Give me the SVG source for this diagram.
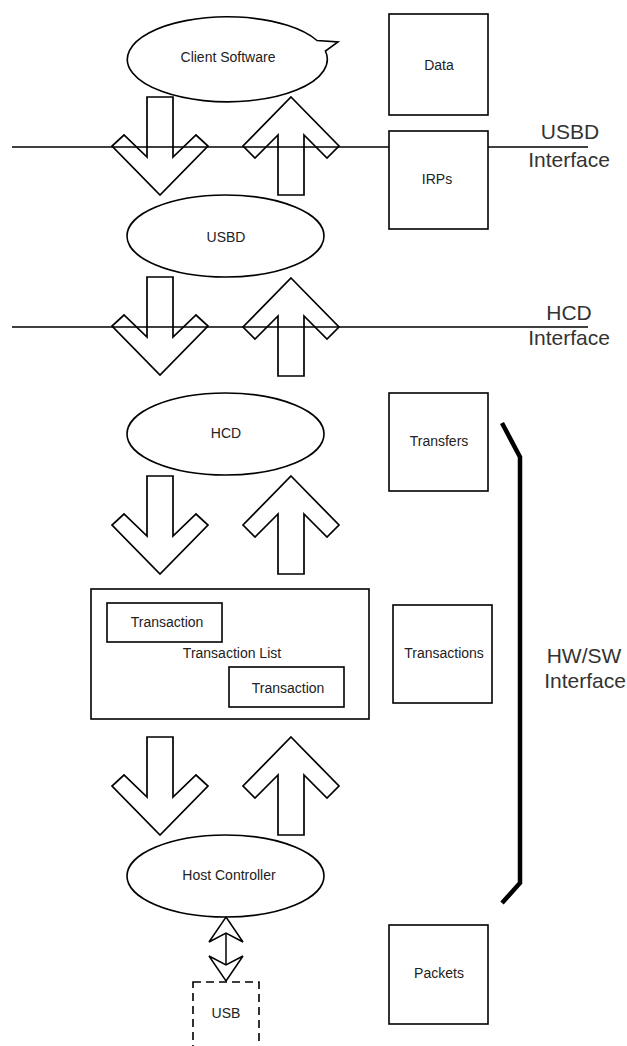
<svg xmlns="http://www.w3.org/2000/svg" width="627" height="1046" viewBox="0 0 627 1046">
<style>
  .shape { fill: #fff; stroke: #000; stroke-width: 1.6; }
  .blk { fill: none; stroke: #000; stroke-width: 1.7; stroke-linejoin: miter; }
  .line { fill: none; stroke: #000; stroke-width: 1.5; }
  .lbl { font-family: "Liberation Sans", Arial, sans-serif; font-size: 14px; fill: #222; text-anchor: middle; }
  .big { font-family: "Liberation Sans", Arial, sans-serif; font-size: 21px; fill: #333; text-anchor: middle; }
</style>
<defs>
  <path id="down" d="M-13,0 H13 V60 L36,38 L48,49 L0,98 L-48,49 L-36,38 L-13,60 Z"/>
  <path id="up" d="M0,0 L48,49 L36,61 L13,38 V98 H-13 V38 L-36,61 L-48,49 Z"/>
</defs>
<rect width="627" height="1046" fill="#fff"/>

<g id="usbd-interface">
  <line class="line" x1="12" y1="147" x2="588" y2="147"/>
  <text class="big" x="570" y="139">USBD</text>
  <text class="big" x="569" y="167">Interface</text>
</g>
<g id="hcd-interface">
  <line class="line" x1="12" y1="327" x2="588" y2="327"/>
  <text class="big" x="569" y="320">HCD</text>
  <text class="big" x="569" y="345">Interface</text>
</g>
<g id="hwsw-interface">
  <polyline points="502,423 520,457 520,883 502,903" fill="none" stroke="#000" stroke-width="4.5"/>
  <text class="big" x="584" y="663">HW/SW</text>
  <text class="big" x="585" y="688">Interface</text>
</g>

<g id="client-software">
  <path class="shape" d="M317,40.5 A100 42.5 0 1 0 325.4,51 L338,42 Z"/>
  <text class="lbl" x="228" y="62">Client Software</text>
</g>
<g id="usbd">
  <ellipse class="shape" cx="225.5" cy="236" rx="98.5" ry="41"/>
  <text class="lbl" x="226" y="242">USBD</text>
</g>
<g id="hcd">
  <ellipse class="shape" cx="225.5" cy="434" rx="98.5" ry="41"/>
  <text class="lbl" x="226" y="438">HCD</text>
</g>
<g id="transaction-list">
  <rect class="shape" x="91" y="589" width="278" height="130"/>
  <text class="lbl" x="232" y="658">Transaction List</text>
</g>
<g id="transaction-1">
  <rect class="shape" x="107" y="603" width="115" height="39"/>
  <text class="lbl" x="167" y="627">Transaction</text>
</g>
<g id="transaction-2">
  <rect class="shape" x="229" y="667" width="115" height="40"/>
  <text class="lbl" x="288" y="693">Transaction</text>
</g>
<g id="host-controller">
  <ellipse class="shape" cx="225.5" cy="876" rx="98.5" ry="41"/>
  <text class="lbl" x="229" y="880">Host Controller</text>
</g>
<g id="usb">
  <rect x="193" y="982" width="66" height="80" fill="#fff" stroke="#000" stroke-width="1.6" stroke-dasharray="8,5"/>
  <text class="lbl" x="226" y="1018">USB</text>
</g>

<g id="data">
  <rect class="shape" x="389" y="14" width="99" height="101"/>
  <text class="lbl" x="439" y="70">Data</text>
</g>
<g id="irps">
  <rect class="shape" x="389" y="131" width="99" height="98"/>
  <text class="lbl" x="437" y="184">IRPs</text>
</g>
<g id="transfers">
  <rect class="shape" x="389" y="393" width="99" height="98"/>
  <text class="lbl" x="439" y="446">Transfers</text>
</g>
<g id="transactions">
  <rect class="shape" x="393" y="605" width="99" height="98"/>
  <text class="lbl" x="444" y="658">Transactions</text>
</g>
<g id="packets">
  <rect class="shape" x="389" y="925" width="99" height="99"/>
  <text class="lbl" x="439" y="978">Packets</text>
</g>

<g id="connectors">
  <use href="#down" class="blk" x="160" y="97"/>
  <use href="#up" class="blk" x="291" y="97"/>
  <use href="#down" class="blk" x="160" y="277"/>
  <use href="#up" class="blk" x="291" y="278"/>
  <use href="#down" class="blk" x="160" y="476"/>
  <use href="#up" class="blk" x="291" y="476"/>
  <use href="#down" class="blk" x="160" y="737"/>
  <use href="#up" class="blk" x="291" y="737"/>
  <line class="line" x1="226" y1="930" x2="226" y2="968"/>
  <path d="M226,917 L243,942 L226,933 L209,942 Z" fill="#fff" stroke="#000" stroke-width="1.5"/>
  <path d="M226,981 L243,956 L226,965 L209,956 Z" fill="#fff" stroke="#000" stroke-width="1.5"/>
</g>
</svg>
